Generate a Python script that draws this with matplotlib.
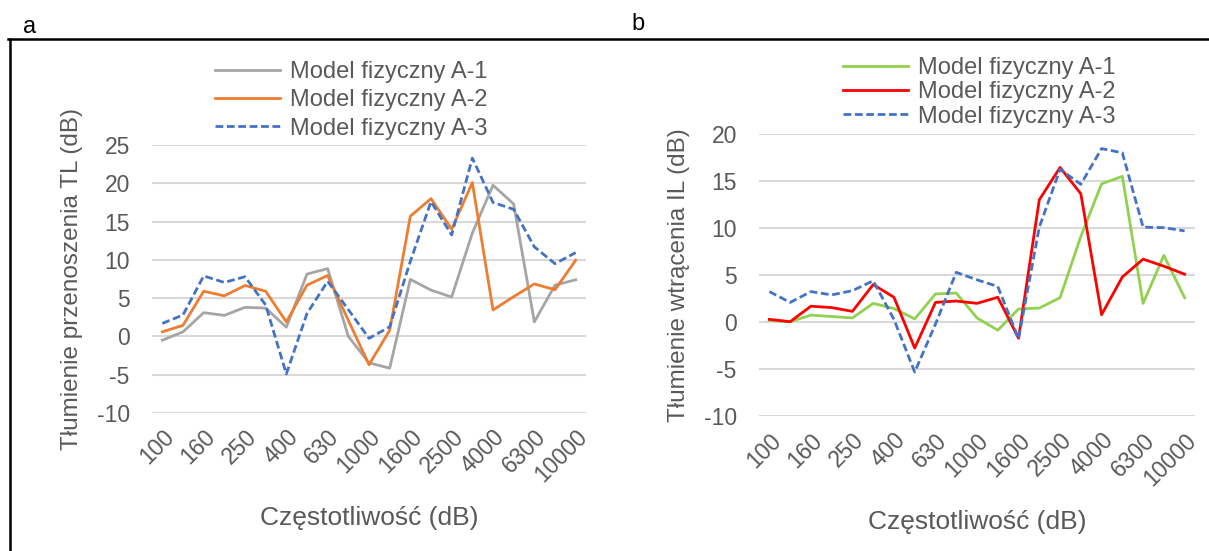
import matplotlib.pyplot as plt
from matplotlib.lines import Line2D

plt.rcParams['font.family'] = ['Liberation Sans', 'DejaVu Sans']
plt.rcParams['axes.unicode_minus'] = False

freq = [100, 125, 160, 200, 250, 315, 400, 500, 630, 800, 1000, 1250,
        1600, 2000, 2500, 3150, 4000, 5000, 6300, 8000, 10000]
labels = ['100', '', '160', '', '250', '', '400', '', '630', '', '1000', '',
          '1600', '', '2500', '', '4000', '', '6300', '', '10000']

# panel a - TL
TL_A1 = [-0.5, 0.6, 3.1, 2.75, 3.8, 3.7, 1.2, 8.15, 8.85, 0.0, -3.45, -4.15,
         7.45, 6.05, 5.15, 13.5, 19.75, 17.3, 1.9, 6.7, 7.4]
TL_A2 = [0.6, 1.45, 5.9, 5.3, 6.65, 5.9, 1.9, 6.7, 7.95, 2.1, -3.7, 0.8,
         15.7, 18.0, 14.0, 20.1, 3.45, 5.2, 6.85, 6.1, 9.95]
TL_A3 = [1.7, 2.8, 7.9, 7.05, 7.8, 4.1, -4.9, 3.0, 7.2, 3.5, -0.25, 1.25,
         9.8, 17.6, 13.25, 23.3, 17.5, 16.6, 11.7, 9.5, 10.95]

# panel b - IL
IL_A1 = [0.2, 0.05, 0.75, 0.6, 0.45, 2.0, 1.45, 0.35, 3.0, 3.1, 0.45, -0.85,
         1.4, 1.5, 2.6, 9.1, 14.7, 15.5, 2.0, 7.1, 2.6]
IL_A2 = [0.3, 0.05, 1.7, 1.55, 1.15, 4.0, 2.65, -2.75, 2.1, 2.25, 2.0, 2.65,
         -1.7, 13.0, 16.45, 13.65, 0.8, 4.8, 6.7, 5.95, 5.1]
IL_A3 = [3.25, 2.1, 3.25, 2.9, 3.35, 4.4, 0.3, -5.3, -0.2, 5.3, 4.5, 3.8,
         -1.75, 10.1, 16.25, 14.65, 18.45, 18.0, 10.1, 10.05, 9.7]

names = ['Model fizyczny A-1', 'Model fizyczny A-2', 'Model fizyczny A-3']
TXT = '#595959'
GRID = '#D9D9D9'
dash = (0, (2.8, 1.3))

fig = plt.figure(figsize=(12.09, 5.51), dpi=100)

def style(ax, ylim, ystep, ylabel):
    ax.set_xlim(-0.5, len(freq) - 0.5)
    ax.set_ylim(*ylim)
    ax.set_yticks(range(ylim[0], ylim[1] + 1, ystep))
    ax.set_xticks(range(len(freq)))
    ax.set_xticklabels(labels, rotation=45, ha='right', va='top',
                       rotation_mode='anchor')
    ax.tick_params(length=0, labelsize=16.5, labelcolor=TXT)
    ax.tick_params(axis='x', pad=9)
    ax.tick_params(axis='y', pad=16)
    ax.grid(axis='y', color=GRID, lw=1.5)
    ax.set_axisbelow(True)
    for s in ax.spines.values():
        s.set_visible(False)
    ax.set_ylabel(ylabel, fontsize=17.5, color=TXT, labelpad=10)
    ax.set_xlabel('Częstotliwość (dB)', fontsize=19, color=TXT, labelpad=14)

def legend(ax, x0, y0, spacing):
    ax.legend(loc='upper left', bbox_to_anchor=(x0 / 1209, 1 - y0 / 551),
              bbox_transform=fig.transFigure, frameon=False, fontsize=17,
              labelcolor=TXT, handlelength=2.75, handletextpad=0.42,
              labelspacing=spacing, borderpad=0, borderaxespad=0)

x = range(len(freq))

# panel a
ax1 = fig.add_axes([152 / 1209, 0.2505, 434 / 1209, 0.4863])
ax1.plot(x, TL_A1, color='#A5A5A5', lw=2, label=names[0])
ax1.plot(x, TL_A2, color='#ED7D31', lw=2, label=names[1])
ax1.plot(x, TL_A3, color='#4472C4', lw=2, ls=dash, label=names[2])
style(ax1, (-10, 25), 5, 'Tłumienie przenoszenia TL (dB)')
legend(ax1, 215, 61, 0.27)

# panel b
ax2 = fig.add_axes([759 / 1209, 0.2445, 436 / 1209, 0.5123])
ax2.plot(x, IL_A1, color='#92D050', lw=2, label=names[0])
ax2.plot(x, IL_A2, color='#FF0000', lw=2, label=names[1])
ax2.plot(x, IL_A3, color='#4472C4', lw=2, ls=dash, label=names[2])
style(ax2, (-10, 20), 5, 'Tłumienie wtrącenia IL (dB)')
legend(ax2, 843, 57, 0.1)

# panel letters and table-like frame
fig.text(23 / 1209, 1 - 27 / 551, 'a', fontsize=17, va='center')
fig.text(631 / 1209, 1 - 24 / 551, 'b', fontsize=17, va='center')
fig.add_artist(Line2D([8 / 1209, 1], [1 - 39 / 551] * 2, color='black', lw=1.8))
fig.add_artist(Line2D([10 / 1209] * 2, [0, 1 - 39 / 551], color='black', lw=1.8))

fig.savefig('out.png', dpi=100)
